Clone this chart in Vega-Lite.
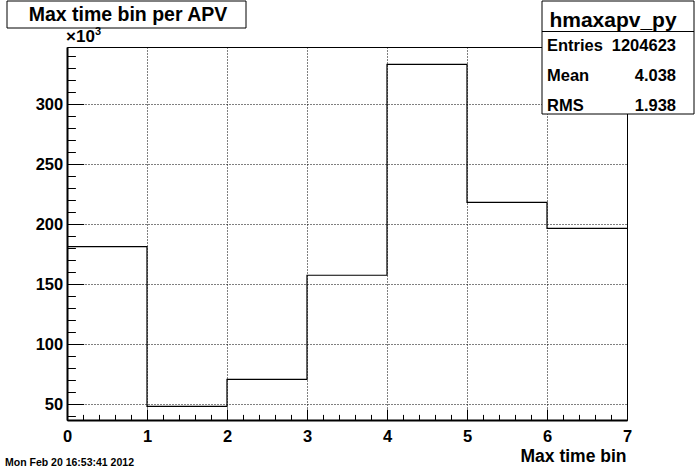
{
  "$schema": "https://vega.github.io/schema/vega-lite/v6.json",
  "width": 560,
  "height": 373,
  "autosize": {"type": "none"},
  "padding": {"left": 67, "top": 47, "right": 69, "bottom": 52},
  "background": "white",
  "config": {
    "font": "Liberation Sans",
    "view": {"stroke": "black", "strokeWidth": 1}
  },
  "datasets": {
    "hist": [
      {"bin": 0, "start": 0, "stop": 1, "count": 181100},
      {"bin": 1, "start": 1, "stop": 2, "count": 48100},
      {"bin": 2, "start": 2, "stop": 3, "count": 70600},
      {"bin": 3, "start": 3, "stop": 4, "count": 157300},
      {"bin": 4, "start": 4, "stop": 5, "count": 333100},
      {"bin": 5, "start": 5, "stop": 6, "count": 218100},
      {"bin": 6, "start": 6, "stop": 7, "count": 196400}
    ],
    "stats": [
      {"name": "Entries", "value": "1204623", "row": 0},
      {"name": "Mean", "value": "4.038", "row": 1},
      {"name": "RMS", "value": "1.938", "row": 2}
    ]
  },
  "layer": [
    {
      "data": {"name": "hist"},
      "transform": [{"fold": ["start", "stop"], "as": ["edge_key", "edge"]}],
      "mark": {"type": "line", "color": "black", "strokeWidth": 1.2, "interpolate": "linear"},
      "encoding": {
        "x": {
          "field": "edge", "type": "quantitative",
          "scale": {"domain": [0, 7], "nice": false, "zero": false},
          "axis": {
            "values": [0,0.2,0.4,0.6,0.8,1,1.2,1.4,1.6,1.8,2,2.2,2.4,2.6,2.8,3,3.2,3.4,3.6,3.8,4,4.2,4.4,4.6,4.8,5,5.2,5.4,5.6,5.8,6,6.2,6.4,6.6,6.8,7],
            "domainColor": "black", "domainWidth": 2,
            "tickColor": "black", "tickWidth": 1,
            "tickSize": {"condition": {"test": "abs(datum.value - round(datum.value)) < 0.001", "value": -11}, "value": -5.6},
            "grid": true, "gridColor": "black", "gridDash": [1, 2], "gridWidth": 1,
            "gridOpacity": {"condition": {"test": "abs(datum.value - round(datum.value)) < 0.001 && datum.value > 0 && datum.value < 7", "value": 1}, "value": 0},
            "labelExpr": "abs(datum.value - round(datum.value)) < 0.001 ? format(datum.value, 'd') : ''",
            "labelFont": "Liberation Sans", "labelFontWeight": "bold", "labelFontSize": 16.5,
            "labelColor": "black", "labelPadding": 19, "labelOverlap": false, "labelBound": false, "labelFlush": false,
            "title": "Max time bin",
            "titleFont": "Liberation Sans", "titleFontWeight": "bold", "titleFontSize": 17.5, "titleColor": "black",
            "titleAnchor": "end", "titleAlign": "right", "titleBaseline": "alphabetic",
            "titleX": 559, "titleY": 41
          }
        },
        "y": {
          "field": "count", "type": "quantitative",
          "scale": {"domain": [36667, 347500], "nice": false, "zero": false},
          "axis": {
            "values": [40000,50000,60000,70000,80000,90000,100000,110000,120000,130000,140000,150000,160000,170000,180000,190000,200000,210000,220000,230000,240000,250000,260000,270000,280000,290000,300000,310000,320000,330000,340000],
            "domainColor": "black", "domainWidth": 2,
            "tickColor": "black", "tickWidth": 1,
            "tickSize": {"condition": {"test": "datum.value % 50000 === 0", "value": -16.7}, "value": -8.4},
            "grid": true, "gridColor": "black", "gridDash": [1, 2], "gridWidth": 1,
            "gridOpacity": {"condition": {"test": "datum.value % 50000 === 0", "value": 1}, "value": 0},
            "labelExpr": "datum.value % 50000 === 0 ? format(datum.value / 1000, 'd') : ''",
            "labelFont": "Liberation Sans", "labelFontWeight": "bold", "labelFontSize": 16.5,
            "labelColor": "black", "labelPadding": 21, "labelOverlap": false, "labelBound": false, "labelFlush": false,
            "title": null
          }
        },
        "order": [{"field": "bin", "type": "quantitative"}, {"field": "edge_key", "type": "nominal"}]
      }
    },
    {
      "data": {"values": [{"box": "title"}]},
      "mark": {"type": "rect", "fill": "white", "stroke": "black", "strokeWidth": 1},
      "encoding": {"x": {"value": -60}, "x2": {"value": 179}, "y": {"value": -46}, "y2": {"value": -19}}
    },
    {
      "data": {"values": [{"text": "Max time bin per APV"}]},
      "mark": {"type": "text", "font": "Liberation Sans", "fontWeight": "bold", "fontSize": 19.5, "align": "center", "baseline": "alphabetic", "color": "black"},
      "encoding": {"x": {"value": 61}, "y": {"value": -26}, "text": {"field": "text"}}
    },
    {
      "data": {"values": [{"sym": "×10"}]},
      "mark": {"type": "text", "font": "Liberation Sans", "fontWeight": "bold", "fontSize": 17, "align": "left", "baseline": "alphabetic", "color": "black"},
      "encoding": {"x": {"value": -1}, "y": {"value": -5}, "text": {"field": "sym"}}
    },
    {
      "data": {"values": [{"sup": "3"}]},
      "mark": {"type": "text", "font": "Liberation Sans", "fontWeight": "bold", "fontSize": 11, "align": "left", "baseline": "alphabetic", "color": "black"},
      "encoding": {"x": {"value": 28}, "y": {"value": -12}, "text": {"field": "sup"}}
    },
    {
      "data": {"values": [{"box": "stats"}]},
      "mark": {"type": "rect", "fill": "white", "stroke": "black", "strokeWidth": 1},
      "encoding": {"x": {"value": 475}, "x2": {"value": 627}, "y": {"value": -46}, "y2": {"value": 67}}
    },
    {
      "data": {"values": [{"box": "divider"}]},
      "mark": {"type": "rule", "stroke": "black", "strokeWidth": 1},
      "encoding": {"x": {"value": 475}, "x2": {"value": 627}, "y": {"value": -15.5}}
    },
    {
      "data": {"values": [{"text": "hmaxapv_py"}]},
      "mark": {"type": "text", "font": "Liberation Sans", "fontWeight": "bold", "fontSize": 21, "align": "center", "baseline": "alphabetic", "color": "black"},
      "encoding": {"x": {"value": 546}, "y": {"value": -20.5}, "text": {"field": "text"}}
    },
    {
      "data": {"name": "stats"},
      "mark": {"type": "text", "font": "Liberation Sans", "fontWeight": "bold", "fontSize": 16.5, "align": "left", "baseline": "alphabetic", "color": "black"},
      "encoding": {
        "x": {"value": 480},
        "y": {"field": "row", "type": "quantitative", "scale": {"domain": [0, 2], "range": [3.5, 64]}, "axis": null},
        "text": {"field": "name"}
      }
    },
    {
      "data": {"name": "stats"},
      "mark": {"type": "text", "font": "Liberation Sans", "fontWeight": "bold", "fontSize": 16.5, "align": "right", "baseline": "alphabetic", "color": "black"},
      "encoding": {
        "x": {"value": 609},
        "y": {"field": "row", "type": "quantitative", "scale": {"domain": [0, 2], "range": [3.5, 64]}, "axis": null},
        "text": {"field": "value"}
      }
    },
    {
      "data": {"values": [{"text": "Mon Feb 20 16:53:41 2012"}]},
      "mark": {"type": "text", "font": "Liberation Sans", "fontWeight": "bold", "fontSize": 10.5, "align": "left", "baseline": "alphabetic", "color": "black"},
      "encoding": {"x": {"value": -62}, "y": {"value": 419}, "text": {"field": "text"}}
    }
  ],
  "resolve": {"scale": {"y": "independent"}}
}
